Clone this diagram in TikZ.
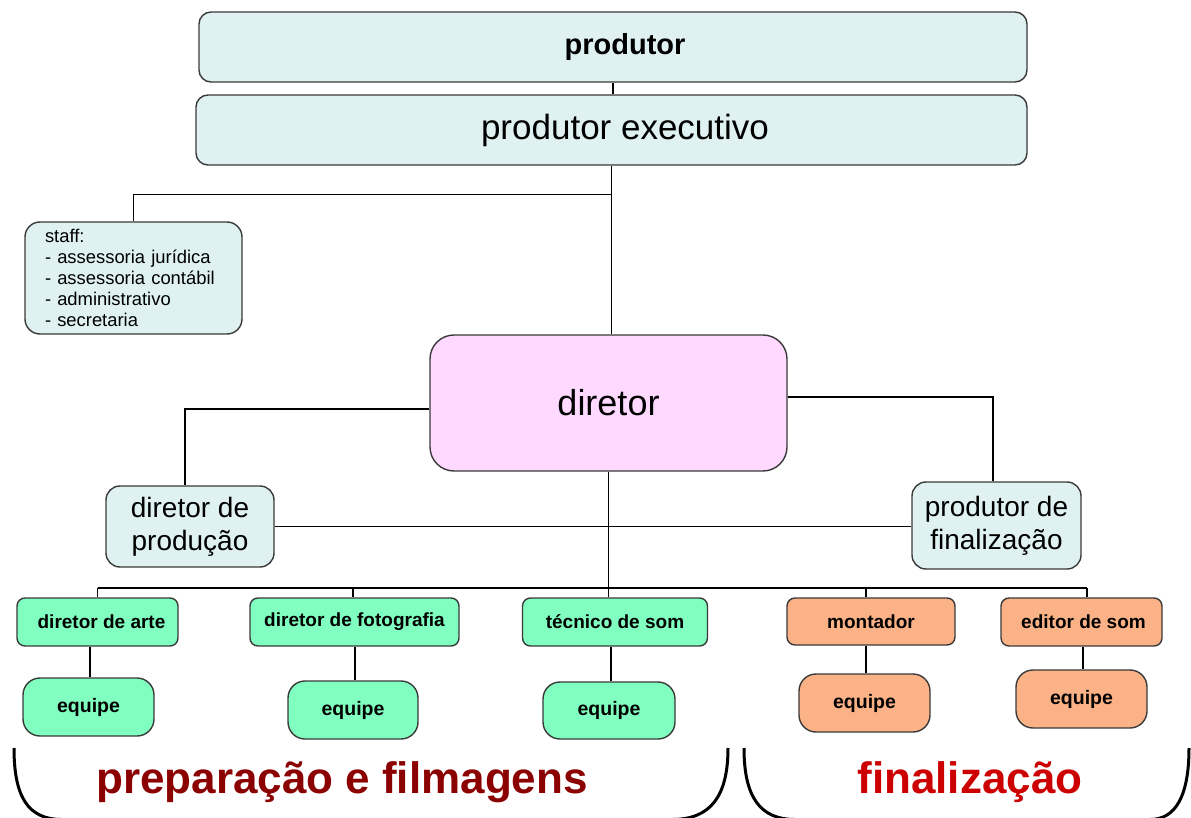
\documentclass[tikz,border=0pt]{standalone}
\usepackage{fontspec}
\setmainfont{Liberation Sans}
\usetikzlibrary{calc}
\definecolor{cyanfill}{HTML}{DFF1F1}
\definecolor{pinkfill}{HTML}{FFD9FF}
\definecolor{greenfill}{HTML}{80FFC0}
\definecolor{orangefill}{HTML}{FBB286}
\definecolor{boxline}{HTML}{3A3A3A}
\definecolor{darkred}{HTML}{8B0000}
\definecolor{brightred}{HTML}{CC0000}
\begin{document}
\begin{tikzpicture}[x=1pt,y=-1pt,
  box/.style={draw=boxline,line width=1.4pt,inner sep=0pt,align=center},
  bigbox/.style={box,fill=cyanfill,rounded corners=12pt},
  midbox/.style={box,fill=cyanfill,rounded corners=14pt,font=\fontsize{28}{33}\selectfont},
  gbox/.style={box,fill=greenfill,rounded corners=8pt,minimum height=48pt,font=\bfseries\fontsize{19}{21}\selectfont},
  obox/.style={box,fill=orangefill,rounded corners=8pt,minimum height=48pt,font=\bfseries\fontsize{19}{21}\selectfont},
  geq/.style={box,fill=greenfill,rounded corners=17pt,minimum width=131pt,minimum height=58pt,font=\bfseries\fontsize{19.5}{21}\selectfont},
  oeq/.style={box,fill=orangefill,rounded corners=17pt,minimum width=131pt,minimum height=58pt,font=\bfseries\fontsize{19.5}{21}\selectfont},
  conn/.style={draw=black,line width=1.3pt},
  bracket/.style={draw=black,line width=3pt}]
\useasboundingbox (0,0) rectangle (1191,818);

% top
\node[bigbox,minimum width=828pt,minimum height=70pt,font=\bfseries\fontsize{29}{31}\selectfont] (prod) at (613,47) {\hspace*{24pt}produtor};
\node[bigbox,minimum width=831pt,minimum height=70pt,font=\fontsize{35}{37}\selectfont] (exec) at (611.5,130) {\hspace*{27pt}produtor executivo};

% staff
\node[box,fill=cyanfill,rounded corners=15pt,minimum width=217pt,minimum height=112pt,
      text width=177pt,inner xsep=20pt,align=left,font=\fontsize{18.4}{21}\selectfont] (staff) at (133.5,278)
  {staff:\\- assessoria jurídica\\- assessoria contábil\\- administrativo\\- secretaria};

% diretor
\node[box,fill=pinkfill,rounded corners=24pt,minimum width=357pt,minimum height=136pt,font=\fontsize{36}{38}\selectfont] (dir) at (608.5,403) {diretor};

\node[midbox,minimum width=168pt,minimum height=81pt] (dprod) at (190,526.5) {diretor de\\produção};
\node[midbox,minimum width=169pt,minimum height=87pt] (pfin) at (996.5,525.5) {produtor de\\finalização};

% departments
\node[gbox,minimum width=161pt] (arte) at (97.5,622) {\hspace*{8pt}diretor de arte};
\node[gbox,minimum width=209pt] (foto) at (354.5,622) {diretor de fotografia};
\node[gbox,minimum width=185pt] (tec) at (615,622) {técnico de som};
\node[obox,minimum width=168pt,minimum height=47pt] (mont) at (871,621.5) {montador};
\node[obox,minimum width=161pt] (edit) at (1081.5,622) {\hspace*{4pt}editor de som};

% teams
\node[geq] (eq1) at (88.5,707) {equipe};
\node[geq,minimum width=130pt] (eq2) at (353,710) {equipe};
\node[geq,minimum width=132pt,minimum height=57pt] (eq3) at (609,710.5) {equipe};
\node[oeq] (eq4) at (864.5,703) {equipe};
\node[oeq] (eq5) at (1081.5,699) {equipe};

% connectors
\draw[conn] (prod.south) -- (prod.south |- exec.north);
\coordinate (j1) at ($(exec.south)+(0,29)$);
\draw[conn] (exec.south) -- (exec.south |- dir.north);
\draw[conn] (j1) -| (staff.north);
\draw[conn] ([yshift=-6pt]dir.west) -| ([xshift=-5pt]dprod.north);
\draw[conn] ([yshift=6pt]dir.east) -| ([xshift=-3.5pt]pfin.north);
\draw[conn] (dprod.east) -- (dprod.east -| pfin.west);
\coordinate (bus) at (dir.south |- 0,588);
\draw[conn] (dir.south) -- (bus);
\draw[conn] (arte.north |- bus) -- ([xshift=5.5pt]edit.north |- bus);
\draw[conn] (arte.north |- bus) -- (arte.north);
\draw[conn] ([xshift=-1.5pt]foto.north |- bus) -- ([xshift=-1.5pt]foto.north);
\draw[conn] (bus) -- (bus |- tec.north);
\draw[conn] ([xshift=-5pt]mont.north |- bus) -- ([xshift=-5pt]mont.north);
\draw[conn] ([xshift=5.5pt]edit.north |- bus) -- ([xshift=5.5pt]edit.north);
\draw[conn] ([xshift=1.5pt]eq1.north |- arte.south) -- ([xshift=1.5pt]eq1.north);
\draw[conn] ([xshift=2pt]eq2.north |- foto.south) -- ([xshift=2pt]eq2.north);
\draw[conn] ([xshift=2pt]eq3.north |- tec.south) -- ([xshift=2pt]eq3.north);
\draw[conn] ([xshift=1.5pt]eq4.north |- mont.south) -- ([xshift=1.5pt]eq4.north);
\draw[conn] ([xshift=1.5pt]eq5.north |- edit.south) -- ([xshift=1.5pt]eq5.north);

% brackets
\draw[bracket] (14,748) .. controls (14,797) and (28,819.5) .. (62,819.5) -- (672,819.5) .. controls (710,819.5) and (728,797) .. (728,748);
\draw[bracket] (744,748) .. controls (744,797) and (760,819.5) .. (795,819.5) -- (1150,819.5) .. controls (1175,819.5) and (1189,797) .. (1189,748);

\node[font=\bfseries\fontsize{44}{46}\selectfont,text=darkred,inner sep=0pt] (lprep) at (342,782) {preparação e filmagens};
\node[font=\bfseries\fontsize{44}{46}\selectfont,text=brightred,inner sep=0pt] (lfin) at (970,782) {finalização};
\end{tikzpicture}
\end{document}
